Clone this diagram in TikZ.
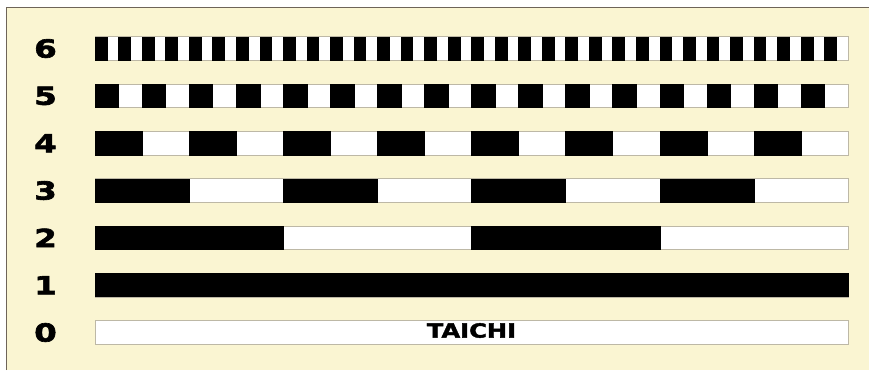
\documentclass[tikz,border=0pt]{standalone}
\usepackage{fontspec}
\usepackage{xcolor}
\usetikzlibrary{positioning}
\setmainfont{DejaVu Sans}
\newfontfamily\rowfont[FakeStretch=1.3,FakeBold=2.5]{DejaVu Sans Bold}
\newfontfamily\namefont[FakeStretch=1.24,FakeBold=2]{DejaVu Sans Bold}
\definecolor{tCream}{HTML}{FAF5D2}
\definecolor{tFrame}{HTML}{6E6458}
\definecolor{tEdge}{HTML}{BDB8A6}

\tikzset{
  rowlabel/.style={font=\rowfont\fontsize{25}{26}\selectfont, inner sep=0pt},
  barbox/.style={fill=white, draw=tEdge, line width=0.8pt},
  barblack/.style={fill=black, draw=black, line width=0.4pt}
}

\begin{document}
\begin{tikzpicture}[x=1pt,y=-1pt]
\useasboundingbox (0,0) rectangle (869,370);
\fill[white] (0,0) rectangle (869,370);
\fill[tCream] (6,7) rectangle (869,370);
\draw[tFrame, line width=1pt] (6,370) -- (6,7) -- (869,7);

% rows 0..6, bar from x=95 to x=848
\foreach \n in {0,...,6} {
  \pgfmathsetmacro\yc{332.5-47.33*\n}
  \node[rowlabel] (lab\n) at (45.5,\yc) {\n};
  \draw[barbox] (95,\yc-11.75) rectangle (848,\yc+11.75);
}

% row 1 is all black
\draw[barblack] (95,284.7-11.75) rectangle (848,284.7+11.75);

% rows 2..6: 2^(n-1) black blocks, each 1/2^n of the bar
\foreach \n in {2,...,6} {
  \pgfmathsetmacro\yc{332.5-47.33*\n}
  \pgfmathsetmacro\w{753/(2^\n)}
  \pgfmathtruncatemacro\last{2^(\n-1)-1}
  \foreach \k in {0,...,\last} {
    \draw[barblack] (95+2*\k*\w,\yc-11.75) rectangle (95+2*\k*\w+\w,\yc+11.75);
  }
}

\node[font=\namefont\fontsize{19.5}{20}\selectfont, inner sep=0pt] (name) at (471.5,330.5) {TAICHI};
\end{tikzpicture}
\end{document}
